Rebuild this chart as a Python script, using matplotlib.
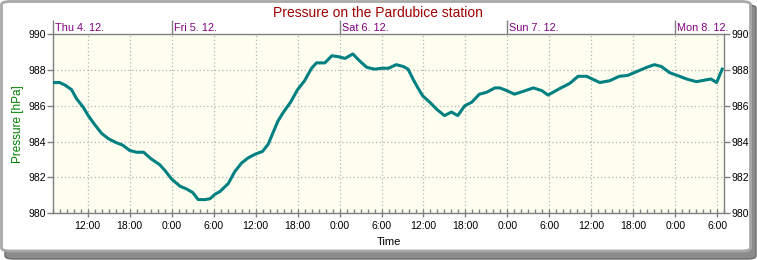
from datetime import datetime, timedelta
import matplotlib
matplotlib.use("Agg")
import matplotlib.pyplot as plt
import matplotlib.dates as mdates
import matplotlib.transforms as mtransforms
from matplotlib.patches import FancyBboxPatch
from matplotlib.ticker import FuncFormatter

# hours since Thu 4.12. 07:00 and pressure
hours = [0, 1, 1.8, 2.7, 3.4, 4.4, 5, 5.8, 7, 8, 9, 10, 11, 12, 13, 14, 15.3, 16, 17,
         18.2, 19.1, 20, 20.8, 21.8, 22.5, 23.2, 23.9, 25.1, 26, 27, 28, 29, 30, 30.8,
         31.5, 32.2, 33, 34, 35, 36, 37, 37.7, 38.9, 39.9, 40.8, 41.8, 42.9, 43.9, 44.9,
         46, 47, 48, 49.1, 50.1, 50.8, 51.5, 52.2, 52.9, 53.9, 54.9, 56, 57, 57.9, 58.9,
         59.9, 61, 62, 63.2, 63.9, 64.9, 66, 67.2, 68.7, 69.9, 70.8, 71.5, 72.4, 73.9,
         75.1, 76.3, 78.2, 79.6, 81, 82.2, 83.4, 84.9, 86, 87, 88.2, 89.6, 90.6, 92,
         93.4, 94.1, 94.9, 95.7]
pressure = [987.3, 987.3, 987.15, 986.9, 986.4, 985.9, 985.5, 985.05, 984.45, 984.15,
            983.95, 983.8, 983.5, 983.4, 983.4, 983.05, 982.7, 982.4, 981.9, 981.5,
            981.35, 981.15, 980.75, 980.75, 980.8, 981.05, 981.2, 981.65, 982.3, 982.8,
            983.1, 983.3, 983.45, 983.85, 984.5, 985.15, 985.65, 986.2, 986.9, 987.4,
            988.1, 988.4, 988.4, 988.8, 988.75, 988.65, 988.9, 988.5, 988.15, 988.05,
            988.1, 988.1, 988.3, 988.2, 988.05, 987.5, 987.0, 986.55, 986.2, 985.8,
            985.45, 985.65, 985.45, 986.0, 986.2, 986.65, 986.75, 987.0, 987.0, 986.85,
            986.65, 986.8, 987.0, 986.85, 986.6, 986.75, 986.95, 987.25, 987.65, 987.65,
            987.3, 987.4, 987.65, 987.7, 987.9, 988.15, 988.3, 988.2, 987.85, 987.65,
            987.5, 987.35, 987.45, 987.5, 987.3, 988.05]
day_labels = ["Thu 4. 12.", "Fri 5. 12.", "Sat 6. 12.", "Sun 7. 12.", "Mon 8. 12."]
y_ticks = [980, 982, 984, 986, 988, 990]

start = datetime(2014, 12, 4, 7, 0)
end = start + timedelta(hours=96)
times = [start + timedelta(hours=h) for h in hours]
day_starts = [max(datetime(2014, 12, 4 + i), start) for i in range(len(day_labels))]

plt.rcParams["font.family"] = ["Liberation Sans", "DejaVu Sans"]
grey = "#808080"

fig = plt.figure(figsize=(7.57, 2.60), dpi=100, facecolor="white")

# rounded frame with shadow (pixel positions / figure size)
shadow = FancyBboxPatch((5 / 757, 1 - 259 / 260), 751 / 757, 254 / 260,
                        boxstyle="round,pad=0,rounding_size=0.012",
                        transform=fig.transFigure, facecolor="#8c8c8c", edgecolor="#6a6a6a",
                        linewidth=1, zorder=-3)
frame = FancyBboxPatch((1.5 / 757, 1 - 251 / 260), 749 / 757, 249.5 / 260,
                       boxstyle="round,pad=0,rounding_size=0.012",
                       transform=fig.transFigure, facecolor="white", edgecolor="#a8a8a8",
                       linewidth=2, zorder=-2)
fig.patches.extend([shadow, frame])

ax = fig.add_axes([52.7 / 757, 1 - 213 / 260, (724.3 - 52.7) / 757, (213 - 34.3) / 260])
ax.set_facecolor("#fefef0")
ax.plot(times, pressure, color="#008080", linewidth=2.2, zorder=3)

ax.set_xlim(start, end)
ax.set_ylim(980, 990)
ax.set_yticks(y_ticks)
ax.xaxis.set_major_locator(mdates.HourLocator(byhour=[0, 6, 12, 18]))
ax.xaxis.set_minor_locator(mdates.HourLocator())
ax.xaxis.set_major_formatter(FuncFormatter(
    lambda v, pos: "%d:%02d" % (mdates.num2date(v).hour, mdates.num2date(v).minute)))
ax.xaxis.set_ticks_position("bottom")
ax.yaxis.set_ticks_position("both")
ax.tick_params(axis="x", which="major", direction="inout", length=6, width=1, color=grey,
               labelsize=7.5, pad=3)
ax.tick_params(axis="x", which="minor", direction="in", length=3, width=1, color=grey)
ax.tick_params(axis="y", direction="out", length=4, width=1, color=grey, labelsize=7.5,
               labelright=True, pad=1)
ax.grid(True, which="major", color="#b4b4b4", linestyle=(0, (1, 2)), linewidth=0.9)
for s in ax.spines.values():
    s.set_color(grey)
    s.set_linewidth(1)

# day ticks and labels on top
ax2 = ax.twiny()
ax2.set_xlim(ax.get_xlim())
ax2.set_xticks(mdates.date2num(day_starts))
ax2.tick_params(axis="x", direction="out", length=10, width=1, color=grey, labeltop=False)
for s in ax2.spines.values():
    s.set_visible(False)
trans = mtransforms.blended_transform_factory(ax.transData, ax.transAxes)
for d, lab in zip(day_starts, day_labels):
    ax.text(mdates.date2num(d), 1.0, lab, transform=trans + mtransforms.ScaledTranslation(
        2 / 100, 1.5 / 100, fig.dpi_scale_trans), ha="left", va="bottom", fontsize=7.8,
        color="#800080")

fig.text(378 / 757, 1 - 13 / 260, "Pressure on the Pardubice station", ha="center",
         va="center", fontsize=10, color="#a00000")
ax.set_xlabel("Time", fontsize=8, labelpad=4)
ax.set_ylabel("Pressure [hPa]", fontsize=8.5, color="#008000", labelpad=3)

fig.savefig("out.png", dpi=100, facecolor="white")
